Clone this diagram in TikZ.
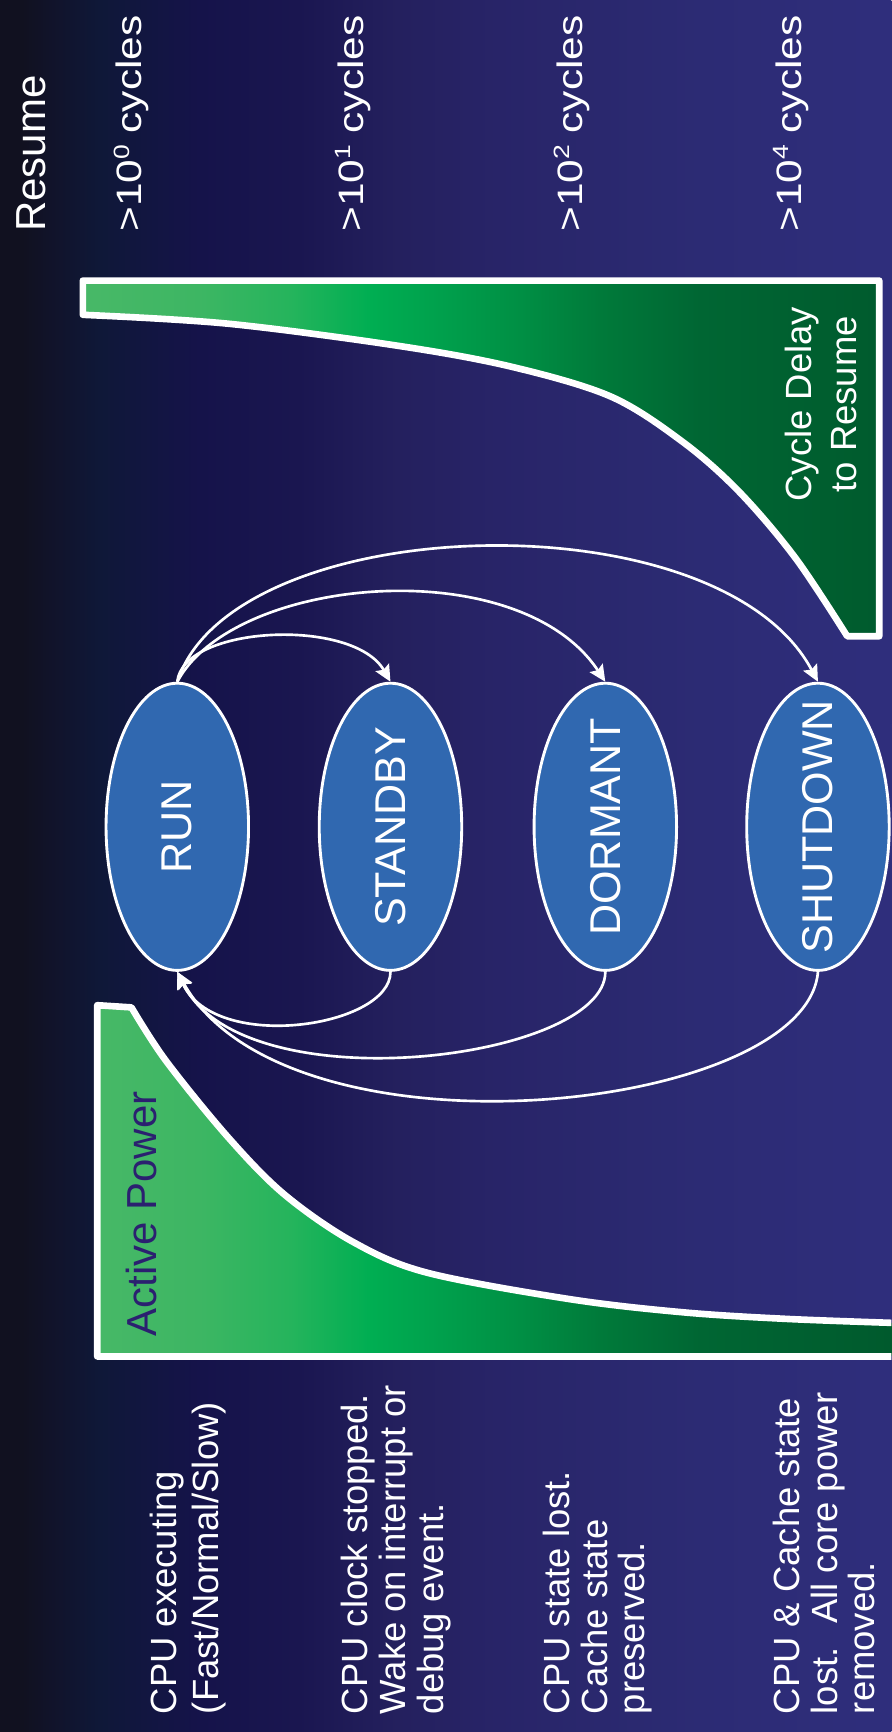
\documentclass[tikz,border=0pt]{standalone}
\usepackage{fontspec}
\setmainfont{Liberation Sans}
\usepackage{graphicx}
\usetikzlibrary{arrows.meta,shapes.geometric}

% slide background, dark at the left edge, indigo at the right
\definecolor{bgA}{HTML}{111120}
\definecolor{bgB}{HTML}{11132A}
\definecolor{bgC}{HTML}{0F1838}
\definecolor{bgD}{HTML}{15134A}
\definecolor{bgE}{HTML}{1A1650}
\definecolor{bgF}{HTML}{24205E}
\definecolor{bgG}{HTML}{282468}
\definecolor{bgH}{HTML}{2A286E}
\definecolor{bgI}{HTML}{2C2B74}
\definecolor{bgJ}{HTML}{2F2E7C}
% green fade of the two bands
\definecolor{gA}{HTML}{47B867}
\definecolor{gB}{HTML}{3DB663}
\definecolor{gC}{HTML}{25B45C}
\definecolor{gD}{HTML}{00AE52}
\definecolor{gE}{HTML}{00A24D}
\definecolor{gF}{HTML}{008F44}
\definecolor{gG}{HTML}{007A3A}
\definecolor{gH}{HTML}{006633}
\definecolor{gI}{HTML}{005A2D}
\definecolor{ellblue}{HTML}{3068B0}
\definecolor{powerink}{HTML}{2B2070}

\pgfdeclarehorizontalshading{slidebg}{100bp}{%
  color(0bp)=(bgA); color(26.24bp)=(bgA); color(27.79bp)=(bgB);
  color(30.58bp)=(bgC); color(36.15bp)=(bgD); color(41.73bp)=(bgE);
  color(47.3bp)=(bgF); color(52.88bp)=(bgG); color(58.77bp)=(bgH);
  color(64.34bp)=(bgI); color(75bp)=(bgJ); color(100bp)=(bgJ)}
\pgfdeclarehorizontalshading{greenfade}{100bp}{%
  color(0bp)=(gA); color(30.33bp)=(gA); color(36.21bp)=(gB);
  color(41.29bp)=(gC); color(45.76bp)=(gD); color(49.16bp)=(gE);
  color(54.18bp)=(gF); color(58.64bp)=(gG); color(64.28bp)=(gH);
  color(75bp)=(gI); color(100bp)=(gI)}

% outline of the "cycle delay" band (top)
\newcommand{\delayoutline}{(75,254) -- (796,254) -- (796,576) -- (767,576)
  -- plot[smooth,tension=0.55] coordinates {(767,576) (720,505) (669,445)
     (618,400) (553,359) (463,332) (360,313) (206,293) (75,285)} -- cycle}
% outline of the "active power" band (bottom)
\newcommand{\poweroutline}{(88,1228) -- (88,910) -- (119,912)
  -- plot[smooth,tension=0.55] coordinates {(119,912) (150,960)
     (206,1029) (257,1081) (319,1124) (386,1152) (515,1176) (618,1188)
     (712,1194) (820,1198)} -- (820,1228) -- cycle}
% small raised exponent
\newcommand{\expo}[1]{\raisebox{0.36em}{\fontsize{20}{20}\selectfont #1}}

\begin{document}
\begin{tikzpicture}[x=1pt,y=-1pt,
  state/.style={ellipse, draw=white, line width=2.6pt, fill=ellblue,
    minimum width=129pt, minimum height=260pt, inner sep=0pt},
  statename/.style={rotate=90, text=white, inner sep=0pt,
    font=\fontsize{39}{39}\selectfont},
  flow/.style={draw=white, line width=2.4pt,
    -{Stealth[length=15pt,width=14pt,inset=2.5pt]}},
  desc/.style={rotate=90, anchor=north west, align=left, inner sep=0pt,
    text=white, font=\fontsize{33}{34}\selectfont},
  delay/.style={rotate=90, xscale=1.2, anchor=base west, inner sep=0pt,
    text=white, font=\fontsize{32}{32}\selectfont},
  band/.style={draw=white, line width=6pt, line join=round},
]
\useasboundingbox (0,0) rectangle (807,1568);
\clip (0,0) rectangle (807,1568);
\shade[shading=slidebg] (0,0) rectangle (807,1568);

% cycle delay band
\begin{scope}
  \clip \delayoutline;
  \shade[shading=greenfade] (0,0) rectangle (807,1568);
\end{scope}
\draw[band] \delayoutline;

% active power band
\begin{scope}
  \clip \poweroutline;
  \shade[shading=greenfade] (0,0) rectangle (807,1568);
\end{scope}
\draw[band] \poweroutline;

% band captions
\node[rotate=90, anchor=center, align=center, inner sep=0pt, text=white,
  font=\fontsize{33}{41}\selectfont] (delaycap) at (743,366)
  {Cycle Delay\\to Resume};
\node[rotate=90, anchor=base west, inner sep=0pt, text=powerink,
  font=\fontsize{38}{38}\selectfont] (powercap) at (141.5,1210) {Active Power};

% power states
\node[state, label={[statename]center:RUN}]      (run)      at (160.5,748.5) {};
\node[state, label={[statename]center:STANDBY}]  (standby)  at (353.5,748.5) {};
\node[state, label={[statename]center:DORMANT}]  (dormant)  at (548,748.5)   {};
\node[state, label={[statename]center:SHUTDOWN}] (shutdown) at (740.5,748.5) {};

% entering the low power states
\draw[flow] (run.north) .. controls +(5,-51) and +(-33.5,-58.5) .. (standby.north);
\draw[flow] (run.north) .. controls +(51.5,-96.5) and +(-78,-118.5) .. (dormant.north);
\draw[flow] (run.north) .. controls +(49.5,-155) and +(-90.5,-170) .. (shutdown.north);
% waking back up
\draw[flow] (standby.south) .. controls +(0,50) and +(34.5,74) .. (run.south);
\draw[flow] (dormant.south) .. controls +(0,80) and +(59.5,121.5) .. (run.south);
\draw[flow] (shutdown.south) .. controls +(-10.5,128) and +(99.5,178) .. (run.south);

% resume latency column
\node[rotate=90, anchor=base west, inner sep=0pt, text=white,
  font=\fontsize{38}{38}\selectfont] (resume) at (41.5,210) {Resume};
\node[delay] (cyc0) at (128.5,210) {>10\expo{0} cycles};
\node[delay] (cyc1) at (329,210)   {>10\expo{1} cycles};
\node[delay] (cyc2) at (527,210)   {>10\expo{2} cycles};
\node[delay] (cyc4) at (725.5,210) {>10\expo{4} cycles};

% state descriptions
\node[desc, font=\fontsize{33}{38}\selectfont] (d0) at (136,1552)
  {CPU executing\\(Fast/Normal/Slow)};
\node[desc] (d1) at (309,1552)
  {CPU clock stopped.\\Wake on interrupt or\\debug event.};
\node[desc] (d2) at (491.5,1552)
  {CPU state lost.\\Cache state\\preserved.};
\node[desc] (d3) at (700,1552)
  {CPU \& Cache state\\lost.~ All core power\\removed.};
\end{tikzpicture}
\end{document}
